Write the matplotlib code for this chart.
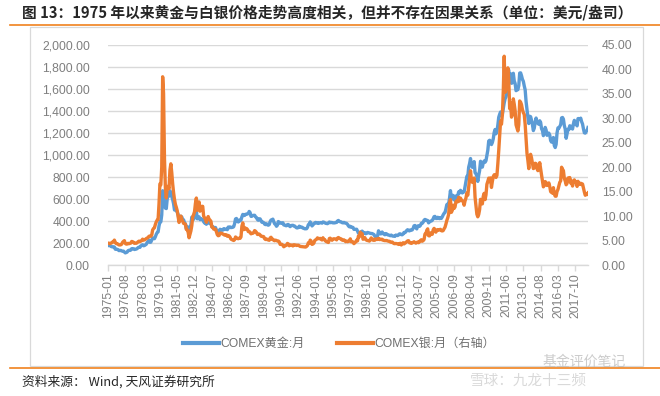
import matplotlib
matplotlib.use("Agg")
import matplotlib.pyplot as plt
from matplotlib.lines import Line2D
from matplotlib.patches import Rectangle
import numpy as np

start_year = 1975
gold = [
    176, 180, 178, 170, 167, 164, 166, 163, 144, 142, 143, 139,
    131, 132, 133, 128, 126, 126, 118, 110, 114, 117, 130, 134,
    132, 136, 148, 149, 147, 141, 143, 145, 149, 158, 162, 160,
    173, 178, 184, 175, 177, 183, 188, 206, 212, 227, 206, 208,
    227, 245, 242, 239, 257, 279, 295, 301, 355, 392, 392, 456,
    675, 665, 554, 517, 513, 600, 644, 627, 674, 661, 623, 595,
    557, 500, 499, 495, 480, 460, 409, 410, 443, 437, 413, 410,
    384, 374, 330, 350, 334, 315, 339, 364, 435, 422, 415, 447,
    481, 491, 420, 432, 438, 412, 422, 416, 411, 394, 382, 388,
    370, 386, 394, 381, 377, 378, 348, 348, 341, 340, 341, 320,
    303, 299, 304, 325, 316, 317, 317, 330, 323, 326, 325, 321,
    345, 339, 346, 340, 342, 343, 348, 376, 418, 423, 398, 391,
    408, 401, 409, 438, 460, 450, 451, 461, 460, 465, 467, 487,
    477, 442, 443, 451, 451, 452, 437, 432, 414, 407, 420, 419,
    404, 388, 390, 384, 371, 367, 375, 365, 362, 367, 394, 409,
    410, 417, 393, 374, 369, 352, 362, 395, 389, 381, 381, 378,
    384, 364, 363, 358, 357, 367, 368, 356, 349, 359, 360, 361,
    354, 354, 345, 338, 337, 341, 353, 343, 345, 344, 335, 334,
    329, 329, 330, 342, 367, 372, 392, 378, 355, 365, 374, 383,
    387, 382, 384, 378, 381, 385, 385, 380, 391, 389, 384, 379,
    378, 376, 382, 391, 385, 387, 386, 383, 383, 383, 386, 387,
    400, 405, 396, 393, 392, 385, 383, 387, 383, 381, 378, 369,
    355, 347, 352, 344, 344, 341, 324, 324, 323, 325, 306, 289,
    289, 297, 296, 308, 299, 292, 293, 284, 289, 296, 294, 291,
    287, 287, 286, 282, 277, 261, 256, 257, 265, 311, 293, 283,
    284, 300, 286, 280, 275, 286, 282, 274, 273, 270, 266, 272,
    265, 262, 263, 260, 272, 270, 268, 273, 283, 283, 276, 275,
    282, 296, 294, 302, 314, 321, 313, 310, 319, 317, 319, 333,
    356, 359, 340, 328, 355, 356, 351, 360, 379, 379, 389, 407,
    414, 405, 407, 404, 383, 392, 398, 400, 406, 420, 439, 442,
    424, 423, 434, 429, 422, 431, 424, 438, 456, 470, 476, 510,
    549, 555, 557, 610, 676, 596, 633, 632, 598, 586, 627, 629,
    631, 665, 655, 679, 667, 655, 665, 665, 712, 754, 806, 803,
    889, 922, 968, 909, 888, 889, 940, 839, 829, 806, 760, 816,
    858, 943, 924, 890, 928, 946, 934, 949, 996, 1043, 1127, 1134,
    1118, 1095, 1114, 1148, 1205, 1232, 1193, 1215, 1271, 1343, 1370, 1391,
    1356, 1372, 1424, 1474, 1512, 1529, 1572, 1756, 1772, 1666, 1739, 1652,
    1656, 1743, 1674, 1650, 1585, 1596, 1594, 1630, 1745, 1747, 1721, 1688,
    1670, 1628, 1593, 1487, 1414, 1343, 1286, 1352, 1348, 1316, 1276, 1222,
    1244, 1300, 1336, 1299, 1288, 1279, 1311, 1296, 1239, 1222, 1176, 1201,
    1251, 1227, 1179, 1198, 1199, 1181, 1131, 1117, 1125, 1159, 1086, 1068,
    1097, 1200, 1246, 1243, 1260, 1276, 1337, 1341, 1326, 1267, 1236, 1152,
    1192, 1234, 1231, 1266, 1246, 1260, 1236, 1283, 1315, 1280, 1282, 1265,
    1331, 1331, 1325, 1335, 1303, 1282, 1238, 1202, 1199, 1215, 1221, 1250,
]
silver = [
    4.48, 4.45, 4.35, 4.46, 4.52, 4.72, 4.75, 5.09, 4.62, 4.38, 4.38, 4.24,
    4.11, 4.10, 4.13, 4.26, 4.64, 4.83, 4.98, 4.40, 4.28, 4.29, 4.43, 4.36,
    4.41, 4.48, 4.82, 4.76, 4.65, 4.44, 4.46, 4.45, 4.56, 4.75, 4.88, 4.78,
    4.88, 5.01, 5.29, 5.08, 5.15, 5.25, 5.41, 5.51, 5.62, 5.88, 5.92, 5.88,
    6.11, 7.16, 7.47, 7.60, 8.30, 8.83, 9.18, 9.30, 12.5, 16.6, 16.4, 20.0,
    38.5, 35.1, 21.8, 15.8, 13.7, 15.9, 16.1, 15.6, 19.4, 20.7, 18.9, 16.6,
    14.8, 13.4, 12.4, 11.8, 11.1, 9.90, 8.70, 9.51, 10.01, 9.40, 8.95, 8.51,
    8.45, 8.36, 7.29, 7.21, 6.70, 5.57, 6.30, 6.97, 8.05, 9.86, 10.3, 10.9,
    12.6, 13.7, 11.2, 11.8, 12.9, 11.0, 11.9, 12.0, 12.0, 10.0, 9.66, 9.40,
    8.74, 9.53, 9.91, 9.34, 9.19, 8.95, 7.78, 7.73, 7.35, 7.30, 7.32, 6.81,
    6.22, 5.99, 6.04, 6.52, 6.49, 6.48, 6.32, 6.27, 6.10, 6.19, 6.17, 5.88,
    6.04, 5.93, 5.69, 5.29, 5.19, 5.10, 5.02, 5.17, 5.73, 5.57, 5.43, 5.38,
    5.49, 5.45, 5.75, 7.93, 8.62, 7.23, 7.66, 7.35, 7.48, 7.29, 6.84, 6.87,
    6.65, 6.37, 6.47, 6.49, 6.62, 7.04, 6.90, 6.67, 6.26, 6.24, 6.33, 6.15,
    5.90, 5.85, 5.85, 5.78, 5.37, 5.21, 5.34, 5.16, 5.14, 5.05, 5.53, 5.67,
    5.25, 5.28, 5.04, 4.97, 5.08, 5.00, 4.92, 4.91, 4.74, 4.22, 4.23, 4.22,
    4.04, 3.73, 3.96, 3.96, 4.06, 4.41, 4.31, 3.93, 4.11, 4.07, 4.05, 3.90,
    4.14, 4.12, 4.07, 3.99, 4.04, 4.05, 3.93, 3.80, 3.78, 3.75, 3.76, 3.74,
    3.70, 3.67, 3.80, 3.99, 4.56, 4.45, 5.09, 4.90, 4.22, 4.29, 4.47, 5.02,
    5.14, 5.27, 5.55, 5.39, 5.39, 5.44, 5.26, 5.12, 5.57, 5.20, 5.19, 4.87,
    4.77, 4.68, 4.61, 5.41, 5.49, 5.17, 5.06, 5.32, 5.36, 5.34, 5.28, 5.14,
    5.51, 5.62, 5.48, 5.36, 5.34, 5.10, 5.05, 5.15, 4.94, 4.77, 4.90, 4.77,
    4.83, 5.01, 5.35, 4.75, 4.76, 4.73, 4.37, 4.54, 4.74, 5.08, 4.95, 5.95,
    5.76, 6.74, 6.14, 6.38, 5.26, 5.43, 5.60, 5.21, 5.06, 5.00, 5.01, 4.89,
    5.18, 5.55, 5.17, 5.07, 5.29, 5.07, 5.33, 5.22, 5.23, 5.44, 5.19, 5.29,
    5.19, 5.27, 5.07, 5.03, 4.99, 4.99, 5.01, 4.92, 4.87, 4.86, 4.71, 4.64,
    4.70, 4.53, 4.38, 4.37, 4.41, 4.37, 4.32, 4.21, 4.37, 4.45, 4.09, 4.35,
    4.55, 4.32, 4.45, 4.60, 4.77, 4.94, 4.98, 4.55, 4.56, 4.42, 4.51, 4.64,
    4.76, 4.60, 4.48, 4.58, 4.71, 4.56, 4.75, 5.01, 5.16, 4.86, 4.99, 5.20,
    6.32, 6.37, 7.10, 7.39, 5.99, 5.95, 6.49, 6.62, 6.28, 7.17, 7.49, 7.23,
    6.72, 7.09, 7.24, 7.13, 7.23, 7.30, 7.02, 6.96, 7.04, 7.41, 7.72, 8.37,
    9.11, 9.64, 10.38, 12.60, 13.38, 10.77, 11.19, 12.23, 11.57, 11.87, 12.98, 13.17,
    12.93, 13.85, 13.09, 13.68, 13.29, 13.14, 12.95, 12.23, 13.12, 13.69, 14.70, 14.27,
    16.00, 17.64, 19.27, 17.49, 16.92, 16.89, 17.79, 13.85, 12.06, 10.39, 9.86, 10.33,
    11.34, 13.43, 13.11, 12.50, 14.04, 14.66, 13.38, 14.36, 16.51, 17.10, 17.77, 17.06,
    17.81, 15.86, 17.11, 18.09, 18.45, 18.48, 17.91, 18.32, 20.70, 23.40, 26.52, 29.39,
    28.79, 30.72, 35.65, 42.70, 35.31, 35.84, 38.27, 40.33, 37.93, 31.99, 33.20, 30.24,
    30.87, 33.99, 32.91, 31.57, 28.67, 28.05, 27.41, 28.71, 33.55, 33.31, 32.80, 31.80,
    31.15, 30.80, 28.77, 25.72, 22.87, 21.39, 19.71, 22.12, 22.64, 21.90, 20.78, 19.72,
    19.86, 20.81, 20.73, 19.71, 19.30, 19.84, 20.93, 19.73, 18.40, 17.17, 15.99, 16.26,
    17.07, 16.85, 16.27, 16.35, 16.79, 16.06, 14.99, 14.85, 14.70, 15.82, 14.53, 14.08,
    14.07, 15.04, 15.44, 16.16, 16.90, 17.21, 20.00, 19.59, 19.30, 17.72, 17.18, 16.41,
    16.70, 17.79, 17.39, 17.89, 16.76, 17.20, 16.15, 16.90, 17.41, 17.04, 17.01, 16.07,
    17.12, 16.60, 16.48, 16.73, 16.46, 16.56, 15.71, 14.94, 14.27, 14.58, 14.40, 14.74,
]
months = [f"{start_year + i // 12}-{i % 12 + 1:02d}" for i in range(len(gold))]
tick_step = 19
left_ticks = [0, 200, 400, 600, 800, 1000, 1200, 1400, 1600, 1800, 2000]
right_ticks = [0, 5, 10, 15, 20, 25, 30, 35, 40, 45]

title = "图 13：1975 年以来黄金与白银价格走势高度相关，但并不存在因果关系（单位：美元/盎司）"
source = "资料来源： Wind, 天风证券研究所"
gold_label = "COMEX黄金:月"
silver_label = "COMEX银:月（右轴）"

BLUE = "#5B9BD5"
ORANGE = "#ED7D31"
GRID = "#D9D9D9"
TXT = "#7F7F7F"
FAM = ["Liberation Sans", "Noto Sans CJK SC", "DejaVu Sans"]

plt.rcParams["font.family"] = FAM

W, H = 660, 396
fig = plt.figure(figsize=(W / 100, H / 100), dpi=100)

def fx(px):
    return px / W

def fy(py):
    return 1 - py / H

# frame box and orange rules
fig.patches.append(Rectangle((fx(30), fy(366)), fx(643) - fx(30), fy(27) - fy(366),
                             transform=fig.transFigure, fill=False, edgecolor=GRID, lw=0.9))
fig.add_artist(Line2D([fx(10), fx(660)], [fy(25), fy(25)], color="#F0821E", lw=1.2,
                      transform=fig.transFigure))
fig.add_artist(Line2D([fx(10), fx(660)], [fy(367.5), fy(367.5)], color="#F0821E", lw=1.2,
                      transform=fig.transFigure))

ax = fig.add_axes([fx(108), fy(265), fx(588) - fx(108), fy(45) - fy(265)])
ax2 = ax.twinx()

x = np.arange(len(gold))
ax.plot(x, gold, color=BLUE, lw=2.4, solid_joinstyle="round", zorder=3)
ax2.plot(x, silver, color=ORANGE, lw=2.4, solid_joinstyle="round", zorder=3)

ax.set_xlim(0, len(gold) - 1)
ax.set_ylim(0, 2000)
ax2.set_ylim(0, 45)
ax.set_yticks(left_ticks)
ax.set_yticklabels([f"{v:,.2f}" for v in left_ticks])
ax2.set_yticks(right_ticks)
ax2.set_yticklabels([f"{v:.2f}" for v in right_ticks])

tpos = list(range(0, len(gold), tick_step))
ax.set_xticks(tpos)
ax.set_xticklabels([months[i] for i in tpos], rotation=90)

ax.grid(axis="y", color=GRID, lw=1.0, zorder=0)
ax.set_axisbelow(True)
for a in (ax, ax2):
    for s in a.spines.values():
        s.set_visible(False)
ax.spines["bottom"].set_visible(True)
ax.spines["bottom"].set_color(GRID)
ax.spines["bottom"].set_linewidth(1.0)

ax.tick_params(axis="x", colors=GRID, length=4, width=1.0, direction="out", pad=2,
               labelsize=8.7, labelcolor=TXT)
ax.tick_params(axis="y", length=0, pad=13, labelsize=8.7, labelcolor=TXT)
ax2.tick_params(axis="y", length=0, pad=10, labelsize=8.7, labelcolor=TXT)

# legend
handles = [Line2D([], [], color=BLUE, lw=3), Line2D([], [], color=ORANGE, lw=3)]
fig.legend(handles, [gold_label, silver_label], loc="center", bbox_to_anchor=(fx(339), fy(344)),
           ncol=2, frameon=False, fontsize=8.7, handlelength=3.0, handletextpad=0.15,
           columnspacing=2.6, labelcolor="#6F6F6F")

fig.text(fx(22), fy(12), title, ha="left", va="center", fontsize=10.6, fontweight="bold",
         color="#262626", family=["Noto Sans CJK SC", "DejaVu Sans"])
fig.text(fx(22), fy(382), source, ha="left", va="center", fontsize=9.2,
         color="#262626", family=["Noto Sans CJK SC", "DejaVu Sans"])

# watermark
fig.text(fx(543), fy(362), "基金评价笔记", ha="left", va="center", fontsize=10,
         color="#BFBFBF", alpha=0.8, family=["Noto Sans CJK SC", "DejaVu Sans"])
fig.text(fx(470), fy(381), "雪球：九龙十三频", ha="left", va="center", fontsize=10.5,
         color="#D0D0D0", alpha=0.8, family=["Noto Sans CJK SC", "DejaVu Sans"])

fig.savefig("out.png", dpi=100)
